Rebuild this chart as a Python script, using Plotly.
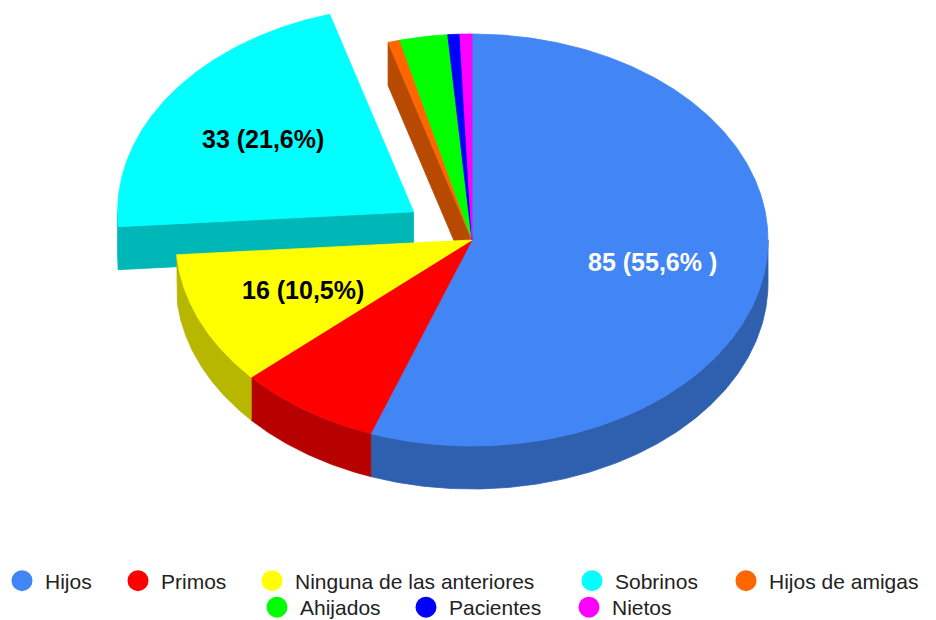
import numpy as np
import plotly.graph_objects as go

# ---------------- data ----------------
categories = ["Hijos", "Primos", "Ninguna de las anteriores", "Sobrinos",
              "Hijos de amigas", "Ahijados", "Pacientes", "Nietos"]
values = [85, 12, 16, 33, 1, 4, 1, 1]
slice_labels = ["85 (55,6% )", "", "16 (10,5%)", "33 (21,6%)", "", "", "", ""]

# ---------------- styles ----------------
colors = ["#4285F4", "#FF0000", "#FFFF00", "#00FFFF",
          "#FF6600", "#00FF00", "#0000FF", "#FF00FF"]
label_colors = ["white", "black", "black", "black", "black", "black", "black", "black"]
pull = [0, 0, 0, 0.24, 0, 0, 0, 0]
# legend marker centres (screen px) for each entry
legend_x_px = [22, 138, 272, 592, 746, 277, 426, 589]
legend_y_px = [581.5, 581.5, 581.5, 581.5, 581.5, 608, 608, 608]

FONT = "Liberation Sans, Arial, sans-serif"
BODY = 8  # default page margin of the html body
CX, CY, RX, RY, DEPTH = 472 - BODY, 240 - BODY, 296, 206, 43
SHADE = 0.72
ITEMW = 36


def darker(hexcol, f=SHADE):
    h = hexcol.lstrip("#")
    r, g, b = (int(h[i:i + 2], 16) for i in (0, 2, 4))
    return "rgb(%d,%d,%d)" % (r * f, g * f, b * f)


def pt(theta, off, r=1.0, dz=0.0):
    t = np.radians(theta)
    return (CX + off[0] + RX * r * np.sin(t), CY + off[1] - RY * r * np.cos(t) + dz)


def arc(a, b, off, dz=0.0):
    n = max(2, int(abs(b - a) / 0.5) + 2)
    th = np.linspace(a, b, n)
    xs = CX + off[0] + RX * np.sin(np.radians(th))
    ys = CY + off[1] - RY * np.cos(np.radians(th)) + dz
    return list(xs), list(ys)


total = float(sum(values))
angles = np.concatenate([[0.0], np.cumsum(values) / total * 360.0])
offsets = []
for i in range(len(values)):
    mid = (angles[i] + angles[i + 1]) / 2.0
    t = np.radians(mid)
    offsets.append((pull[i] * RX * np.sin(t), -pull[i] * RY * np.cos(t)))

fig = go.Figure()


def poly(xs, ys, col):
    fig.add_trace(go.Scatter(x=xs, y=ys, mode="lines", fill="toself",
                             fillcolor=col, line=dict(color=col, width=0.8),
                             hoverinfo="skip", showlegend=False))


n = len(values)
# 1) radial walls (only where neighbouring slices are separated)
for i in range(n):
    a0, a1 = angles[i], angles[i + 1]
    off = offsets[i]
    for edge, inward in ((a0, a0 + 0.5), (a1, a1 - 0.5)):
        nb = (i - 1) % n if edge == a0 else (i + 1) % n
        if offsets[nb] == off:
            continue
        c = (CX + off[0], CY + off[1])
        rim = pt(edge, off)
        e = (rim[0] - c[0], rim[1] - c[1])
        q = pt(inward, off)
        nv = (q[0] - c[0], q[1] - c[1])
        cross_in = e[0] * nv[1] - e[1] * nv[0]
        cross_dn = e[0] * 1.0
        if np.sign(cross_in) == np.sign(cross_dn):
            continue
        xs = [c[0], rim[0], rim[0], c[0], c[0]]
        ys = [c[1], rim[1], rim[1] + DEPTH, c[1] + DEPTH, c[1]]
        poly(xs, ys, darker(colors[i]))

# 2) outer (front) walls
for i in range(n):
    a0, a1 = max(angles[i], 90.0), min(angles[i + 1], 270.0)
    if a1 <= a0:
        continue
    off = offsets[i]
    tx, ty = arc(a0, a1, off)
    bx, by = arc(a1, a0, off, DEPTH)
    poly(tx + bx + [tx[0]], ty + by + [ty[0]], darker(colors[i]))

# 3) top faces
for i in range(n):
    off = offsets[i]
    ax, ay = arc(angles[i], angles[i + 1], off)
    c = (CX + off[0], CY + off[1])
    poly([c[0]] + ax + [c[0]], [c[1]] + ay + [c[1]], colors[i])

# slice labels
annotations = []
for i in range(n):
    if not slice_labels[i]:
        continue
    mid = (angles[i] + angles[i + 1]) / 2.0
    x, y = pt(mid, offsets[i], r=0.62)
    annotations.append(dict(x=x, y=y, xref="x", yref="y", text=slice_labels[i],
                            showarrow=False,
                            font=dict(family=FONT, size=25, color=label_colors[i],
                                      weight="bold")))

# legend entries: one legend per entry so that spacing follows the reference
legends = {}
for i in range(n):
    key = "legend" if i == 0 else "legend%d" % (i + 1)
    fig.add_trace(go.Scatter(x=[None], y=[None], mode="markers", name=categories[i],
                             marker=dict(size=16, color=colors[i], symbol="circle",
                                         line=dict(color=colors[i], width=5)),
                             legend=key, hoverinfo="skip"))
    legends[key] = dict(orientation="h", itemwidth=ITEMW,
                        x=(legend_x_px[i] - BODY - (5 + ITEMW / 2.0)) / 936.0,
                        xanchor="left",
                        y=1 - (legend_y_px[i] - 8.5) / 620.0, yanchor="middle",
                        font=dict(family=FONT, size=21, color="#222222"),
                        itemsizing="trace", bgcolor="rgba(0,0,0,0)")

fig.update_layout(
    width=936, height=620,
    margin=dict(l=0, r=0, t=0, b=0, autoexpand=False),
    paper_bgcolor="white", plot_bgcolor="white",
    xaxis=dict(range=[0, 936], visible=False, fixedrange=True),
    yaxis=dict(range=[620, 0], visible=False, fixedrange=True),
    showlegend=True,
    annotations=annotations,
    **legends,
)

fig.write_html("out.html")
